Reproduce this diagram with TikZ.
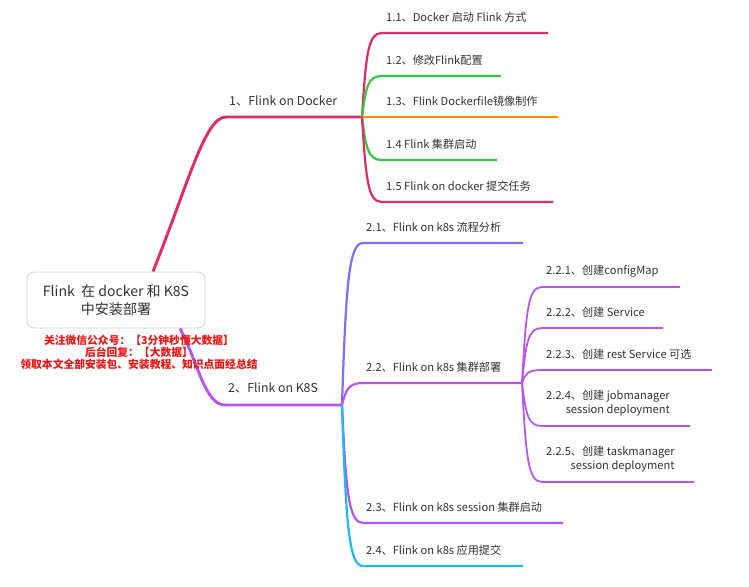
\documentclass[tikz,border=0pt]{standalone}
\usepackage{fontspec}
\setmainfont{Noto Sans CJK SC}
\usetikzlibrary{calc}
\definecolor{mapred}{RGB}{222,44,104}
\definecolor{mapgreen}{RGB}{60,196,72}
\definecolor{maporange}{RGB}{255,140,0}
\definecolor{mapviolet}{RGB}{124,112,246}
\definecolor{mappurple}{RGB}{184,84,240}
\definecolor{mapcyan}{RGB}{32,184,246}
\definecolor{maptext}{RGB}{51,51,51}
\definecolor{notered}{RGB}{240,20,20}

\begin{document}
\begin{tikzpicture}[x=0.03cm, y=-0.03cm,
  rootbox/.style={draw=black!18, fill=white, rounded corners=6pt, line width=0.8pt, minimum width=5.34cm, minimum height=1.68cm, align=center, font=\fontsize{12}{15}\selectfont, text=maptext},
  topic/.style={anchor=west, inner sep=0pt, font=\fontsize{10.5}{13}\selectfont, text=maptext},
  leaf/.style={anchor=west, inner sep=0pt, align=right, font=\fontsize{9.5}{12}\selectfont, text=maptext},
  note/.style={inner sep=0pt, align=center, font=\fontsize{9.2}{10.3}\selectfont\bfseries, text=notered},
  mainline/.style={line width=2.5pt},
  subline/.style={line width=1.9pt},
  leafline/.style={line width=1.5pt}
]
  \useasboundingbox (0,0) rectangle (749,587);

  % root and junctions
  \node[rootbox] (root) at (116,300) {Flink\ \ 在 docker 和 K8S\\中安装部署};
  \coordinate (j1) at (362,117);
  \coordinate (j2) at (342,405);
  \coordinate (j3) at (522,383);

  % first level
  \node[topic] (t1) at (229,101) {1、Flink on Docker};
  \node[topic] (t2) at (228,388) {2、Flink on K8S};
  \draw[mainline, mapred] ($(root.north)+(37,0)$) .. controls +(36,-90) and +(-21,0) .. ($(t1.west)+(-3,16)$) -- (j1);
  \draw[mainline, mappurple] ($(root.south)+(64,0)$) .. controls +(18,34) and +(-20,0) .. ($(t2.west)+(-3,17)$) -- (j2);

  % Flink on Docker
  \node[leaf] (n11) at (386,17) {1.1、Docker 启动 Flink 方式};
  \node[leaf] (n12) at (386,60) {1.2、修改Flink配置};
  \node[leaf] (n13) at (386,101) {1.3、Flink Dockerfile镜像制作};
  \node[leaf] (n14) at (386,144) {1.4 Flink 集群启动};
  \node[leaf] (n15) at (386,186) {1.5 Flink on docker 提交任务};
  \draw[subline, mapred] (j1) .. controls +(4,-63) and +(-14,0) .. ($(n11.west)+(-4,16)$) -- ++(166,0);
  \draw[subline, mapgreen] (j1) .. controls +(4,-31) and +(-14,0) .. ($(n12.west)+(-4,16)$) -- ++(119,0);
  \draw[subline, maporange] (j1) -- ++(196,0);
  \draw[subline, mapgreen] (j1) .. controls +(4,31) and +(-14,0) .. ($(n14.west)+(-4,16)$) -- ++(115,0);
  \draw[subline, mapred] (j1) .. controls +(4,64) and +(-14,0) .. ($(n15.west)+(-4,16)$) -- ++(171,0);

  % Flink on K8S
  \node[leaf] (n21) at (366,227) {2.1、Flink on k8s 流程分析};
  \node[leaf] (n22) at (366,367) {2.2、Flink on k8s 集群部署};
  \node[leaf] (n23) at (366,507) {2.3、Flink on k8s session 集群启动};
  \node[leaf] (n24) at (366,550) {2.4、Flink on k8s 应用提交};
  \draw[subline, mapviolet] (j2) .. controls +(4,-122) and +(-14,0) .. ($(n21.west)+(-3,16)$) -- ++(160,0);
  \draw[subline, mappurple] (j2) .. controls +(4,-16) and +(-14,0) .. ($(n22.west)+(-3,16)$) -- (j3);
  \draw[subline, mappurple] (j2) .. controls +(4,88) and +(-14,0) .. ($(n23.west)+(-3,16)$) -- ++(200,0);
  \draw[subline, mapcyan] (j2) .. controls +(4,121) and +(-14,0) .. ($(n24.west)+(-3,16)$) -- ++(160,0);

  % cluster deployment steps
  \node[leaf] (n221) at (546,271) {2.2.1、创建configMap};
  \node[leaf] (n222) at (546,312) {2.2.2、创建 Service};
  \node[leaf] (n223) at (546,354) {2.2.3、创建 rest Service 可选};
  \node[leaf] (n224) at (546,403) {2.2.4、创建 jobmanager\\session deployment};
  \node[leaf] (n225) at (546,459) {2.2.5、创建 taskmanager\\session deployment};
  \draw[leafline, mappurple] (j3) .. controls +(4,-72) and +(-14,0) .. ($(n221.west)+(-4,16)$) -- ++(138,0);
  \draw[leafline, mappurple] (j3) .. controls +(4,-41) and +(-14,0) .. ($(n222.west)+(-4,16)$) -- ++(121,0);
  \draw[leafline, mappurple] (j3) .. controls +(4,-10) and +(-14,0) .. ($(n223.west)+(-4,16)$) -- ++(170,0);
  \draw[leafline, mappurple] (j3) .. controls +(4,32) and +(-14,0) .. ($(n224.west)+(-4,23)$) -- ++(148,0);
  \draw[leafline, mappurple] (j3) .. controls +(4,74) and +(-14,0) .. ($(n225.west)+(-4,23)$) -- ++(152,0);

  % red note under the root
  \node[note] (wm) at (139,352) {关注微信公众号：【3分钟秒懂大数据】\\后台回复：【大数据】\\领取本文全部安装包、安装教程、知识点面经总结};
\end{tikzpicture}
\end{document}
